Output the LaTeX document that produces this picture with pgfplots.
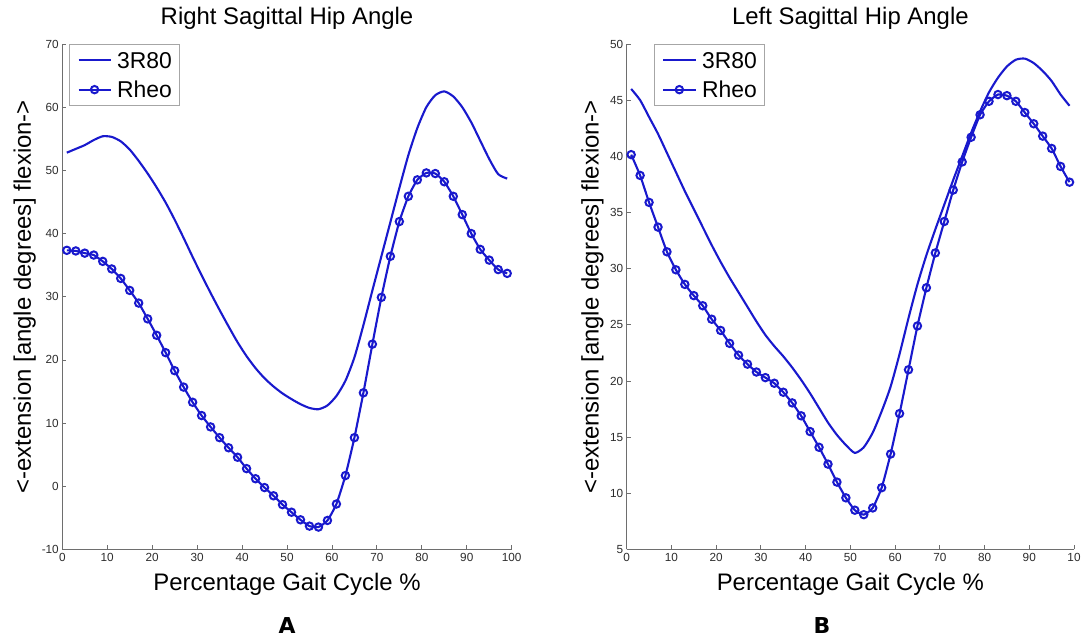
\documentclass[border=0pt]{standalone}
\usepackage{fontspec}
\setmainfont{Liberation Sans}
\newfontfamily\labfont{DejaVu Sans}
\usepackage{pgfplots}
\usepackage{pgfplotstable}
\pgfplotsset{compat=1.18}

\definecolor{mblue}{RGB}{25,25,205}
\definecolor{axgray}{RGB}{110,110,110}
\definecolor{txtgray}{RGB}{45,45,45}

% right hip
\pgfplotstableread{
x y
1 52.8
3 53.4
5 54.0
7 54.8
9 55.4
11 55.3
13 54.6
15 53.3
17 51.5
19 49.5
21 47.3
23 44.9
25 42.2
27 39.3
29 36.3
31 33.4
33 30.6
35 27.9
37 25.3
39 22.8
41 20.6
43 18.7
45 17.1
47 15.8
49 14.7
51 13.8
53 13.0
55 12.4
57 12.2
59 12.8
61 14.3
63 16.7
65 20.4
67 25.5
69 31.0
71 36.4
73 41.8
75 47.2
77 52.4
79 56.7
81 60.0
83 61.9
85 62.5
87 61.7
89 60.0
91 57.6
93 54.7
95 51.8
97 49.4
99 48.7
}\rthreer

\pgfplotstableread{
x y
1 37.35
3 37.25
5 36.9
7 36.6
9 35.6
11 34.4
13 32.9
15 31.0
17 29.0
19 26.5
21 23.9
23 21.15
25 18.3
27 15.7
29 13.3
31 11.2
33 9.4
35 7.7
37 6.1
39 4.6
41 2.8
43 1.2
45 -0.2
47 -1.5
49 -2.9
51 -4.1
53 -5.3
55 -6.3
57 -6.45
59 -5.4
61 -2.8
63 1.7
65 7.7
67 14.8
69 22.5
71 29.9
73 36.4
75 41.9
77 45.9
79 48.5
81 49.6
83 49.5
85 48.2
87 45.9
89 43.0
91 40.0
93 37.5
95 35.8
97 34.3
99 33.7
}\rrheo

% left hip
\pgfplotstableread{
x y
1 46.0
3 45.0
5 43.5
7 42.0
9 40.3
11 38.6
13 36.9
15 35.3
17 33.7
19 32.1
21 30.6
23 29.2
25 27.9
27 26.6
29 25.3
31 24.1
33 23.1
35 22.2
37 21.2
39 20.1
41 18.9
43 17.6
45 16.3
47 15.2
49 14.3
51 13.6
53 14.1
55 15.4
57 17.3
59 19.5
61 22.4
63 25.6
65 28.6
67 31.2
69 33.5
71 35.7
73 37.9
75 40.0
77 42.1
79 44.0
81 45.7
83 47.0
85 48.0
87 48.6
89 48.7
91 48.3
93 47.6
95 46.7
97 45.5
99 44.5
}\lthreer

\pgfplotstableread{
x y
1 40.15
3 38.3
5 35.9
7 33.7
9 31.5
11 29.9
13 28.6
15 27.6
17 26.7
19 25.5
21 24.5
23 23.35
25 22.3
27 21.5
29 20.8
31 20.3
33 19.8
35 19.0
37 18.05
39 16.9
41 15.5
43 14.1
45 12.6
47 11.0
49 9.6
51 8.5
53 8.1
55 8.7
57 10.5
59 13.5
61 17.1
63 21.0
65 24.9
67 28.3
69 31.4
71 34.2
73 37.0
75 39.5
77 41.7
79 43.7
81 44.9
83 45.5
85 45.4
87 44.9
89 43.9
91 42.9
93 41.8
95 40.7
97 39.1
99 37.7
}\lrheo

\pgfplotsset{
  gait/.style={
    scale only axis, height=505.5bp,
    xmin=0, xmax=100,
    axis lines*=left,
    axis line style={axgray, line width=0.8bp},
    tick align=inside, major tick length=4bp,
    tick style={axgray, line width=0.8bp},
    xtick={0,10,...,100},
    ticklabel style={font=\fontsize{11.8}{13}\selectfont, text=txtgray},
    title style={at={(axis description cs:0.5,1)}, anchor=base, inner sep=0pt,
      yshift=13.3bp, font=\fontsize{24}{28}\selectfont},
    xlabel style={at={(axis description cs:0.5,0)}, anchor=base, inner sep=0pt,
      yshift=-40.5bp, font=\fontsize{24}{28}\selectfont},
    ylabel style={anchor=south, inner sep=0pt, font=\fontsize{24}{28}\selectfont},
    xlabel={Percentage Gait Cycle \%},
    ylabel={<-extension [angle degrees] flexion->},
    legend cell align=left,
    legend style={anchor=north west, draw=gray!70, line width=1bp,
      font=\fontsize{23}{26}\selectfont, inner xsep=8bp, inner ysep=7.6bp,
      nodes={inner sep=0pt, text height=16.5bp, text depth=0bp},
      column sep=5.6bp, row sep=12.8bp},
    legend image code/.code={
      \draw[mark repeat=2, mark phase=2, #1] plot coordinates {(0bp,0bp) (16bp,0bp) (32bp,0bp)};},
  },
  smooth3r/.style={mblue, line width=2.1bp, no marks, smooth, tension=0.4},
  rheo/.style={mblue, line width=2.1bp, smooth, tension=0.3, mark=o, mark size=3.7bp,
    mark options={solid, line width=2bp}},
}

\begin{document}
\begin{tikzpicture}
\useasboundingbox (0,0) rectangle (1081bp,639bp);

\begin{axis}[gait, at={(62.3bp,89.5bp)}, anchor=south west, width=449.4bp,
  ymin=-10, ymax=70, ytick={-10,0,...,70},
  yticklabels={-10,0,10,20,30,40,50,60,70},
  xticklabels={0,10,20,30,40,50,60,70,80,90,100},
  title={Right Sagittal Hip Angle},
  ylabel style={at={(axis description cs:-0.0585,0.5)}},
  legend style={at={(axis description cs:0.0149,1)}}]
\addplot[smooth3r] table[x=x,y=y] {\rthreer};
\addplot[rheo] table[x=x,y=y] {\rrheo};
\legend{3R80,Rheo}
\end{axis}

\begin{axis}[gait, at={(626.7bp,89.5bp)}, anchor=south west, width=447.3bp,
  ymin=5, ymax=50, ytick={5,10,...,50},
  yticklabels={5,10,15,20,25,30,35,40,45,50},
  xticklabels={0,10,20,30,40,50,60,70,80,90,10},
  title={Left Sagittal Hip Angle},
  ylabel style={at={(axis description cs:-0.0512,0.5)}},
  legend style={at={(axis description cs:0.0606,1)}}]
\addplot[smooth3r] table[x=x,y=y] {\lthreer};
\addplot[rheo] table[x=x,y=y] {\lrheo};
\legend{3R80,Rheo}
\end{axis}

\node[anchor=base, inner sep=0pt] at (287bp,6bp) {\fontsize{22}{26}\labfont\bfseries A};
\node[anchor=base, inner sep=0pt] at (822bp,6bp) {\fontsize{22}{26}\labfont\bfseries B};
\end{tikzpicture}
\end{document}
